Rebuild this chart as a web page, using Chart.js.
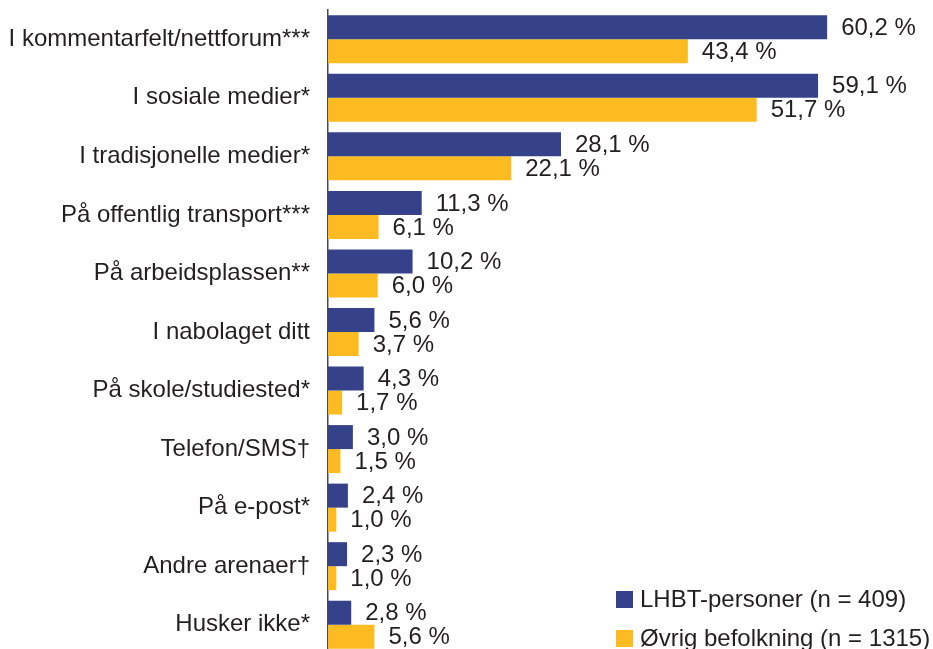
<!DOCTYPE html>
<html>
<head>
<meta charset="utf-8">
<script src="https://cdn.jsdelivr.net/npm/chart.js@4"></script>
<style>
  html, body { margin: 0; padding: 0; background: #fff; overflow: hidden; }
  #wrap { width: 933px; height: 654px; }
</style>
</head>
<body>
<div id="wrap"><canvas id="arenaBar" width="933" height="654"></canvas></div>
<script>
// Categories (arenas) and the two series
const categories = [
  'I kommentarfelt/nettforum***',
  'I sosiale medier*',
  'I tradisjonelle medier*',
  'På offentlig transport***',
  'På arbeidsplassen**',
  'I nabolaget ditt',
  'På skole/studiested*',
  'Telefon/SMS†',
  'På e-post*',
  'Andre arenaer†',
  'Husker ikke*'
];
const lhbtValues = [60.2, 59.1, 28.1, 11.3, 10.2, 5.6, 4.3, 3.0, 2.4, 2.3, 2.8];
const ovrigValues = [43.4, 51.7, 22.1, 6.1, 6.0, 3.7, 1.7, 1.5, 1.0, 1.0, 5.6];
const seriesLabels = ['LHBT-personer (n = 409)', 'Øvrig befolkning (n = 1315)'];

const FONT = 'Arial, "Liberation Sans", sans-serif';
const TEXT = '#231f20';

// Format a value as Norwegian percent, e.g. 60,2 %
const fmt = v => v.toFixed(1).replace('.', ',') + ' %';

// Writes the value next to the end of each bar
const valueLabels = {
  id: 'valueLabels',
  afterDatasetsDraw(chart) {
    const c = chart.ctx;
    c.save();
    c.font = '24px ' + FONT;
    c.fillStyle = TEXT;
    c.textBaseline = 'middle';
    c.textAlign = 'left';
    chart.data.datasets.forEach((ds, i) => {
      chart.getDatasetMeta(i).data.forEach((bar, j) => {
        c.fillText(fmt(ds.data[j]), bar.x + 14, bar.y + 1);
      });
    });
    c.restore();
  }
};

// Legend in the lower right corner
const cornerLegend = {
  id: 'cornerLegend',
  afterDraw(chart) {
    const c = chart.ctx;
    c.save();
    c.font = '24px ' + FONT;
    c.textBaseline = 'middle';
    chart.data.datasets.forEach((ds, i) => {
      const y = 591 + i * 39;
      c.fillStyle = ds.backgroundColor;
      c.fillRect(616, y, 17, 17);
      c.fillStyle = TEXT;
      c.fillText(ds.label, 640, y + 9);
    });
    c.restore();
  }
};

const ctx = document.getElementById('arenaBar').getContext('2d');
new Chart(ctx, {
  type: 'bar',
  data: {
    labels: categories,
    datasets: [
      { label: seriesLabels[0], data: lhbtValues, backgroundColor: '#35428a' },
      { label: seriesLabels[1], data: ovrigValues, backgroundColor: '#fbbb21' }
    ]
  },
  options: {
    indexAxis: 'y',
    responsive: false,
    animation: false,
    layout: { padding: { top: 10, right: 8, bottom: 0, left: 0 } },
    datasets: { bar: { categoryPercentage: 0.82, barPercentage: 1 } },
    plugins: { legend: { display: false }, tooltip: { enabled: false } },
    scales: {
      x: { display: false, min: 0, max: 72 },
      y: {
        // fixed axis width, and no extra padding from the first/last label
        afterFit: s => { s.width = 328; s.paddingTop = 0; s.paddingBottom = 0; },
        grid: { display: false, drawTicks: false },
        border: { display: true, color: '#4a4a4a', width: 1.5 },
        ticks: { padding: 18, color: TEXT, font: { family: FONT, size: 24 } }
      }
    }
  },
  plugins: [valueLabels, cornerLegend]
});
</script>
</body>
</html>
